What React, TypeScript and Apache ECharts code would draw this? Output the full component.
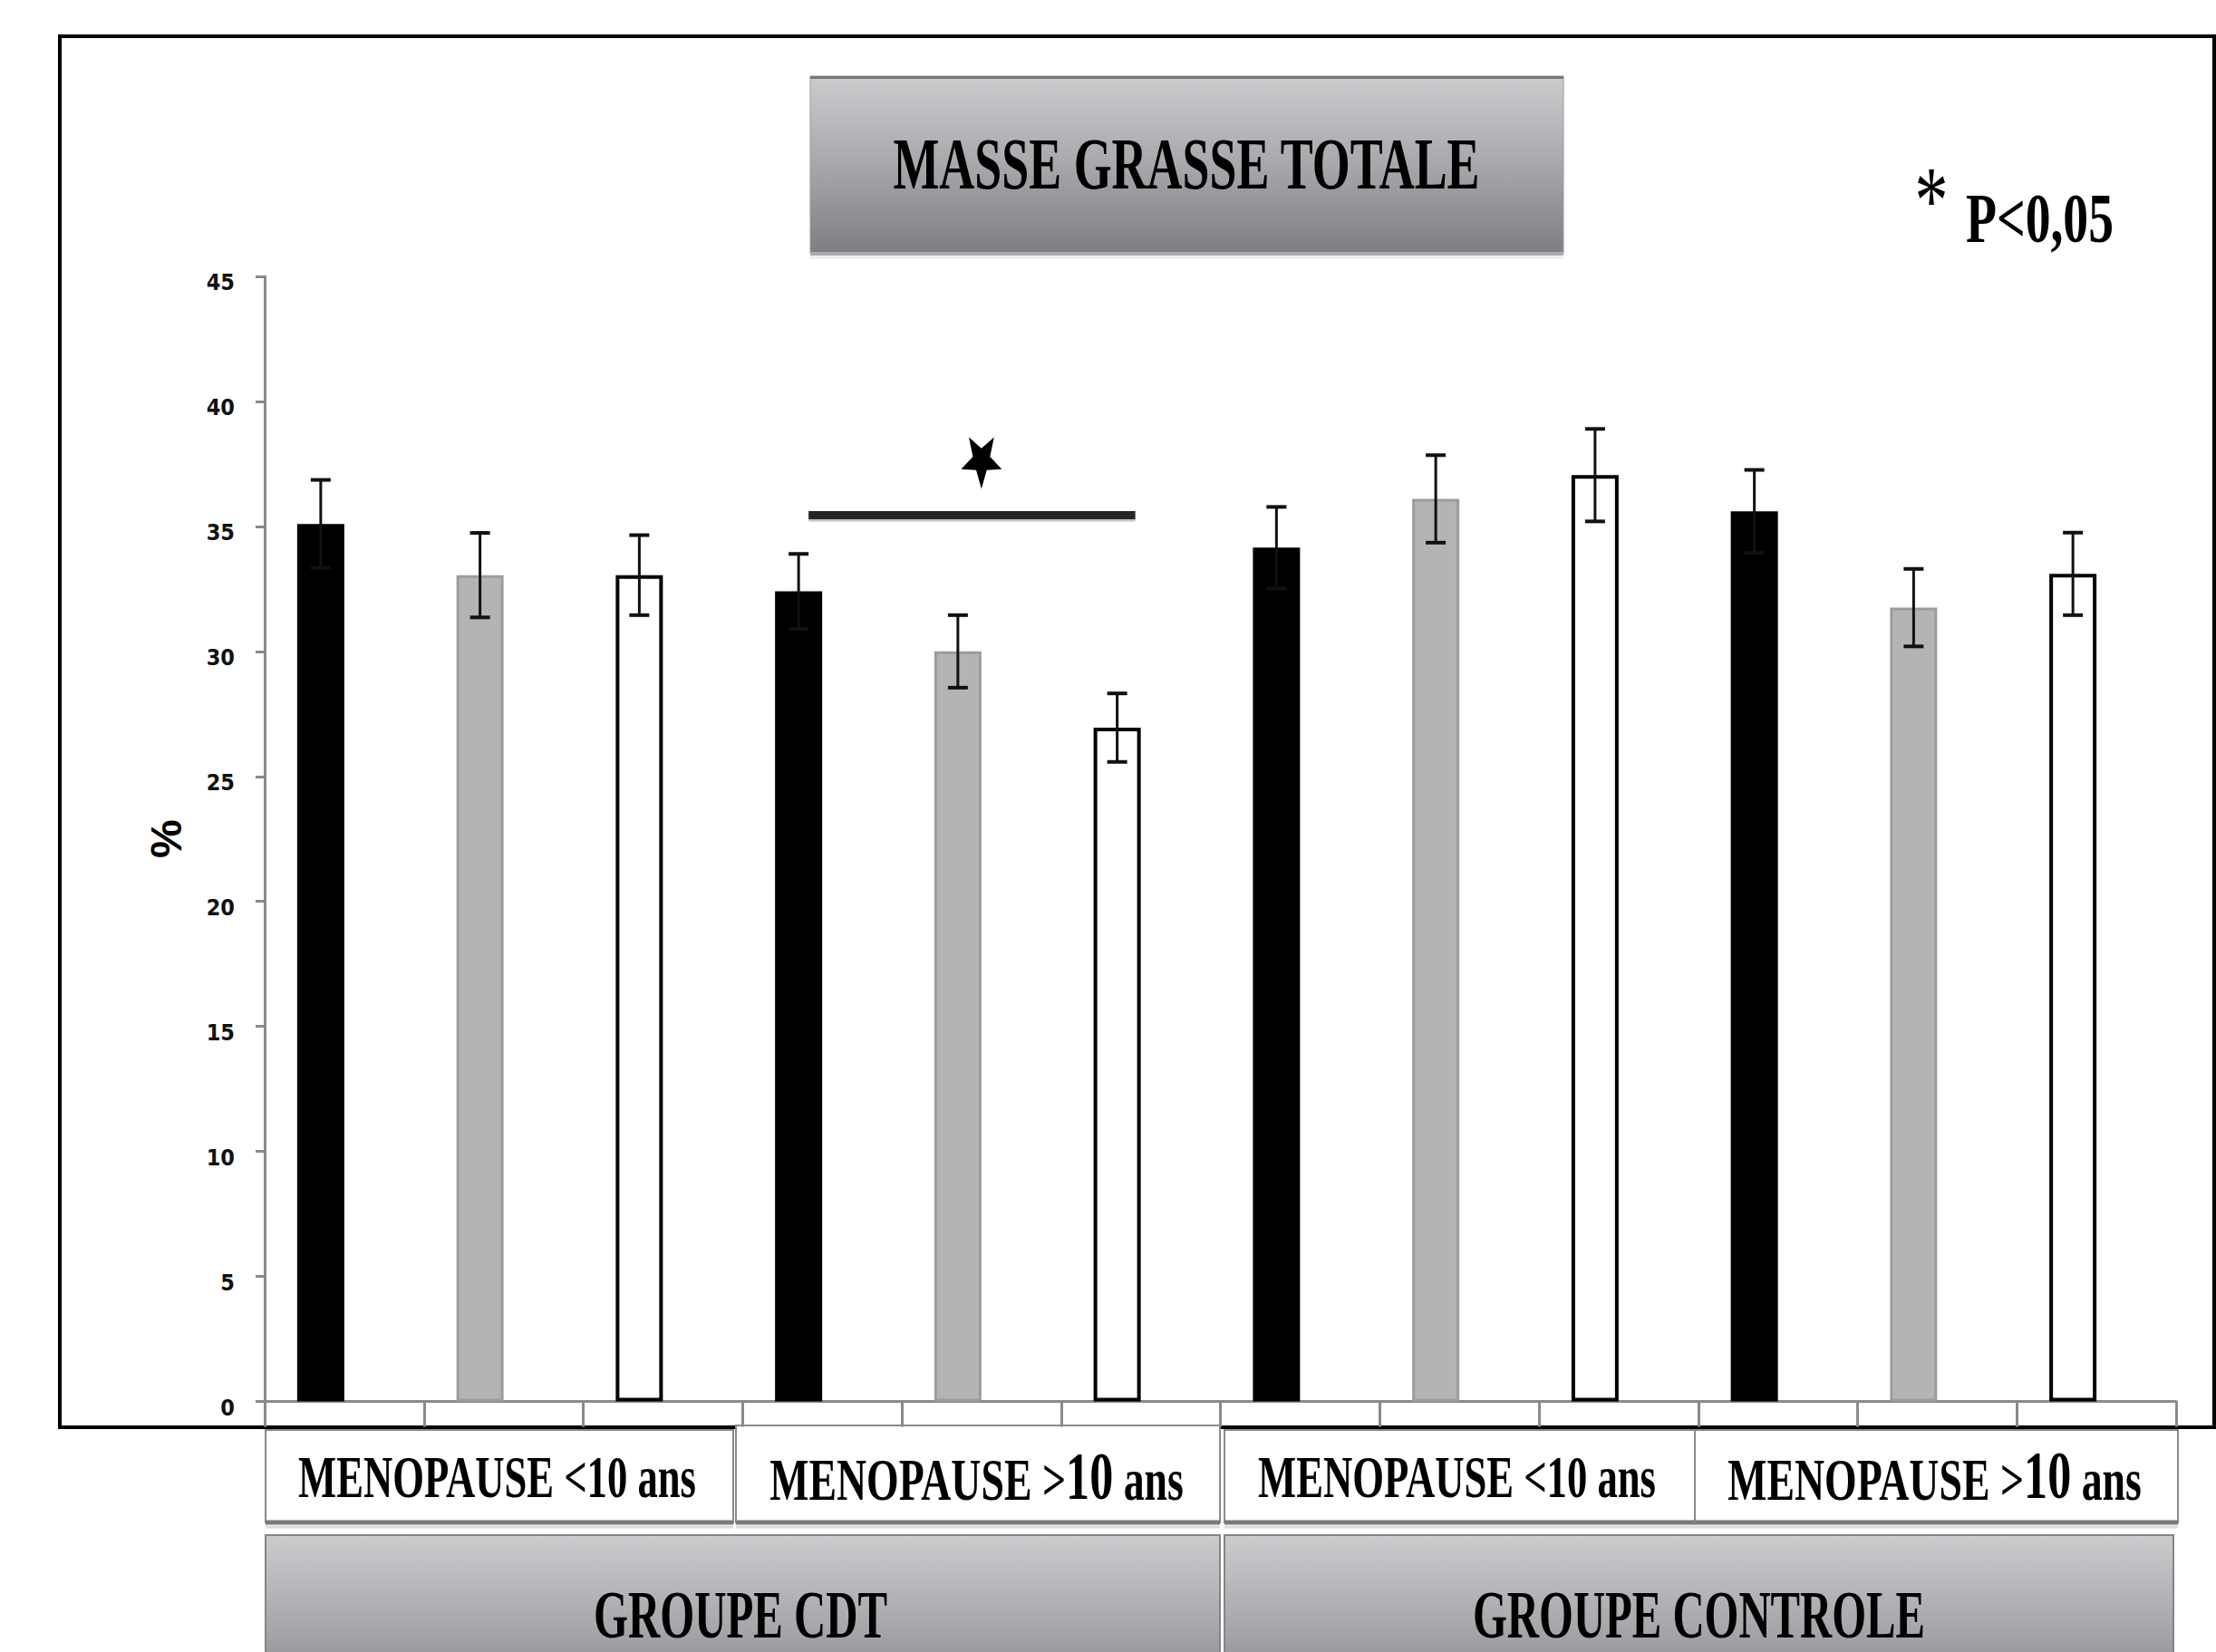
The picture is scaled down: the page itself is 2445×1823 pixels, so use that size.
import React, { useEffect, useRef } from 'react';
import * as echarts from 'echarts';

const W = 2445;
const H = 1823;

// ---- data ----
const categories = [
  'CDT <10 ans (1)', 'CDT <10 ans (2)', 'CDT <10 ans (3)',
  'CDT >10 ans (1)', 'CDT >10 ans (2)', 'CDT >10 ans (3)',
  'CONTROLE <10 ans (1)', 'CONTROLE <10 ans (2)', 'CONTROLE <10 ans (3)',
  'CONTROLE >10 ans (1)', 'CONTROLE >10 ans (2)', 'CONTROLE >10 ans (3)',
];
const values = [35.1, 33.05, 33.05, 32.4, 30.0, 26.95, 34.15, 36.1, 37.05, 35.6, 31.75, 33.1];
const errors = [1.76, 1.69, 1.6, 1.5, 1.45, 1.37, 1.63, 1.75, 1.85, 1.66, 1.55, 1.65];
const periodLabels = ['MENOPAUSE <10 ans', 'MENOPAUSE >10 ans', 'MENOPAUSE <10 ans', 'MENOPAUSE >10 ans'];
const groupLabels = ['GROUPE CDT', 'GROUPE CONTROLE'];
const titleText = 'MASSE GRASSE TOTALE';
const pText = 'P<0,05';
const yName = '%';
const yMin = 0;
const yMax = 45;
const yStep = 5;
const sigFrom = 3;
const sigTo = 5;
const sigLevel = 35.45;
const starCat = 4;
const starLevel = 37.64;

// ---- style ----
const BAR_W = 52;
const fills = ['#000000', '#b4b4b4', '#ffffff'];
const borders = ['#000000', '#9c9c9c', '#000000'];
const borderWidths = [0, 3, 4];
const SERIF = 'Liberation Serif';

const mctx = document.createElement('canvas').getContext('2d') as CanvasRenderingContext2D;
function textW(t: string, size: number, weight: string) {
  mctx.font = `${weight} ${size}px "${SERIF}"`;
  return mctx.measureText(t).width;
}

function fitText(t: string, cx: number, cy: number, size: number, weight: string, targetW: number) {
  const s = targetW / textW(t, size, weight);
  return {
    type: 'text', x: cx, y: cy, scaleX: s, silent: true,
    style: {
      text: t, fontSize: size, fontWeight: weight, fontFamily: SERIF, fill: '#000',
      align: 'center', verticalAlign: 'middle', textAlign: 'center', textVerticalAlign: 'middle',
    },
  };
}

function periodText(t: string, cx: number, cy: number, targetW: number) {
  const base = 65;
  if (t.indexOf('>') < 0) return fitText(t, cx, cy, base, 'bold', targetW);
  const parts = t.split(/(10)/);
  const big = 74;
  const w = textW(parts[0], base, 'bold') + textW(parts[1], big, 'bold') + textW(parts[2], base, 'bold');
  const s = targetW / w;
  const tok = (size: number) => ({ fontSize: size, fontWeight: 'bold', fontFamily: SERIF, fill: '#000', verticalAlign: 'bottom' });
  return {
    type: 'text', x: cx, y: cy, scaleX: s, silent: true,
    style: {
      text: `{a|${parts[0]}}{b|${parts[1]}}{a|${parts[2]}}`,
      rich: { a: tok(base), b: tok(big) },
      fontSize: base, fontFamily: SERIF, fontWeight: 'bold', fill: '#000',
      align: 'center', verticalAlign: 'middle', textAlign: 'center', textVerticalAlign: 'middle',
    },
  };
}

const grayGrad = () => new echarts.graphic.LinearGradient(0, 0, 0, 1, [
  { offset: 0, color: '#cbccce' },
  { offset: 0.5, color: '#a7a8ab' },
  { offset: 1, color: '#7d7e81' },
]);

export default function App() {
  const ref = useRef<HTMLDivElement>(null);
  useEffect(() => {
    document.body.style.margin = '0';
    const chart = echarts.init(ref.current as HTMLDivElement, null, { renderer: 'svg', width: W, height: H });
    const option: any = {
      animation: false,
      backgroundColor: '#ffffff',
      grid: { left: 292, right: 44, top: 305, bottom: 276.5, containLabel: false, outerBoundsMode: 'none' },
      xAxis: {
        type: 'category',
        data: categories,
        axisLine: { show: true, lineStyle: { color: '#8a8a8a', width: 3 } },
        axisTick: { show: true, interval: 0, length: 28, lineStyle: { color: '#8a8a8a', width: 3 } },
        axisLabel: { show: false },
        splitLine: { show: false },
      },
      yAxis: {
        type: 'value',
        min: yMin, max: yMax, interval: yStep,
        name: yName,
        nameLocation: 'middle',
        nameRotate: 90,
        nameGap: 85,
        nameTextStyle: { fontSize: 48, fontWeight: 'bold', fontFamily: 'Liberation Sans', color: '#000' },
        axisLine: { show: true, lineStyle: { color: '#8a8a8a', width: 3 } },
        axisTick: { show: true, length: 10, lineStyle: { color: '#8a8a8a', width: 3 } },
        axisLabel: {
          fontSize: 25, fontWeight: 'bold', fontFamily: 'DejaVu Sans Condensed, DejaVu Sans', color: '#111',
          margin: 33, verticalAlign: 'top', lineHeight: 13,
        },
        splitLine: { show: false },
      },
      series: [
        {
          type: 'bar',
          barWidth: BAR_W,
          barGap: '0%',
          data: values.map((v, i) => ({
            value: v,
            itemStyle: { color: fills[i % 3], borderColor: borders[i % 3], borderWidth: borderWidths[i % 3] },
          })),
          z: 2,
        },
        {
          type: 'bar',
          barWidth: BAR_W,
          barGap: '0%',
          data: categories.map(() => '-'),
          z: 2,
        },
        {
          type: 'custom',
          z: 5,
          data: values.map((v, i) => [i, v, errors[i]]),
          renderItem: (params: any, api: any) => {
            const i = api.value(0);
            const v = api.value(1);
            const e = api.value(2);
            const top = api.coord([i, v + e]);
            const bot = api.coord([i, v - e]);
            const x = top[0] - BAR_W / 2;
            const cap = 11;
            return {
              type: 'group',
              children: [
                { type: 'line', shape: { x1: x, y1: top[1], x2: x, y2: bot[1] }, style: { stroke: '#111', lineWidth: 3 } },
                { type: 'line', shape: { x1: x - cap, y1: top[1], x2: x + cap, y2: top[1] }, style: { stroke: '#111', lineWidth: 4 } },
                { type: 'line', shape: { x1: x - cap, y1: bot[1], x2: x + cap, y2: bot[1] }, style: { stroke: '#111', lineWidth: 4 } },
              ],
            };
          },
        },
      ],
    };
    chart.setOption(option);

    const c = (i: number, v: number) => chart.convertToPixel({ xAxisIndex: 0, yAxisIndex: 0 }, [i, v]) as number[];
    const pA = c(sigFrom, sigLevel);
    const pB = c(sigTo, sigLevel);
    const st = c(starCat, starLevel);
    const R = 31.5;
    const r = R * 0.42;
    const starPts: number[][] = [];
    for (let k = 0; k < 10; k++) {
      const ang = (90 + 36 * k) * Math.PI / 180;
      const rad = k % 2 === 0 ? R : r;
      starPts.push([rad * Math.cos(ang), rad * Math.sin(ang)]);
    }

    const graphic: any[] = [];
    // outer frame
    graphic.push({ type: 'rect', silent: true, shape: { x: 66, y: 40, width: 2377, height: 1535 }, style: { fill: 'none', stroke: '#000', lineWidth: 4 } });
    // title box
    graphic.push({ type: 'rect', silent: true, shape: { x: 894, y: 84, width: 831, height: 196 }, style: { fill: grayGrad(), stroke: '#9a9a9c', lineWidth: 1 } });
    graphic.push({ type: 'line', silent: true, shape: { x1: 894, y1: 85.5, x2: 1725, y2: 85.5 }, style: { stroke: '#77787a', lineWidth: 3 } });
    graphic.push({ type: 'line', silent: true, shape: { x1: 894, y1: 280, x2: 1725, y2: 280 }, style: { stroke: '#abacaf', lineWidth: 4 } });
    graphic.push({ type: 'line', silent: true, shape: { x1: 894, y1: 284, x2: 1725, y2: 284 }, style: { stroke: '#ececec', lineWidth: 3 } });
    graphic.push(fitText(titleText, 1309, 181.5, 80, 'bold', 648));
    // p value
    graphic.push(fitText('*', 2131, 222, 105, 'normal', 37));
    graphic.push(fitText(pText, 2250.5, 241, 78, 'bold', 163));
    // significance bracket
    graphic.push({ type: 'line', silent: true, shape: { x1: pA[0] - 15, y1: pA[1] + 5, x2: pB[0] - 6, y2: pB[1] + 5 }, style: { stroke: '#c4c4c4', lineWidth: 4 } });
    graphic.push({ type: 'line', silent: true, shape: { x1: pA[0] - 15, y1: pA[1], x2: pB[0] - 6, y2: pB[1] }, style: { stroke: '#262626', lineWidth: 9 } });
    graphic.push({ type: 'polygon', silent: true, x: st[0], y: st[1], scaleX: 0.75, shape: { points: starPts }, style: { fill: '#000' } });

    // row 1 boxes
    const row1 = [[293, 809, 1578], [812, 1346, 1573], [1351, 1870, 1578], [1870, 2403, 1578]];
    row1.forEach(([x0, x1, y0]) => {
      graphic.push({ type: 'rect', silent: true, shape: { x: x0, y: y0, width: x1 - x0, height: 1680 - y0 }, style: { fill: '#fff', stroke: '#8a8a8a', lineWidth: 2 } });
      graphic.push({ type: 'line', silent: true, shape: { x1: x0, y1: 1680, x2: x1, y2: 1680 }, style: { stroke: '#7b7b7b', lineWidth: 5 } });
      graphic.push({ type: 'line', silent: true, shape: { x1: x0, y1: 1685, x2: x1, y2: 1685 }, style: { stroke: '#dcdcdc', lineWidth: 3 } });
    });
    const r1cx = [548.5, 1077.5, 1607.5, 2134.5];
    const r1cy = [1630, 1629, 1630, 1628.5];
    const r1w = [439, 457, 439, 457];
    periodLabels.forEach((t, k) => graphic.push(periodText(t, r1cx[k], r1cy[k], r1w[k])));

    // row 2 boxes
    const row2 = [[293, 1346], [1351, 2398]];
    row2.forEach(([x0, x1]) => {
      graphic.push({ type: 'rect', silent: true, shape: { x: x0, y: 1694, width: x1 - x0, height: 200 }, style: { fill: grayGrad(), stroke: '#858585', lineWidth: 2 } });
    });
    const r2cx = [817, 1874.5];
    const r2w = [324, 499];
    groupLabels.forEach((t, k) => graphic.push(fitText(t, r2cx[k], 1782, 73, 'bold', r2w[k])));

    chart.setOption({ graphic });
    return () => chart.dispose();
  }, []);
  return <div ref={ref} style={{ position: 'absolute', left: 0, top: 0, width: W, height: H }} />;
}
